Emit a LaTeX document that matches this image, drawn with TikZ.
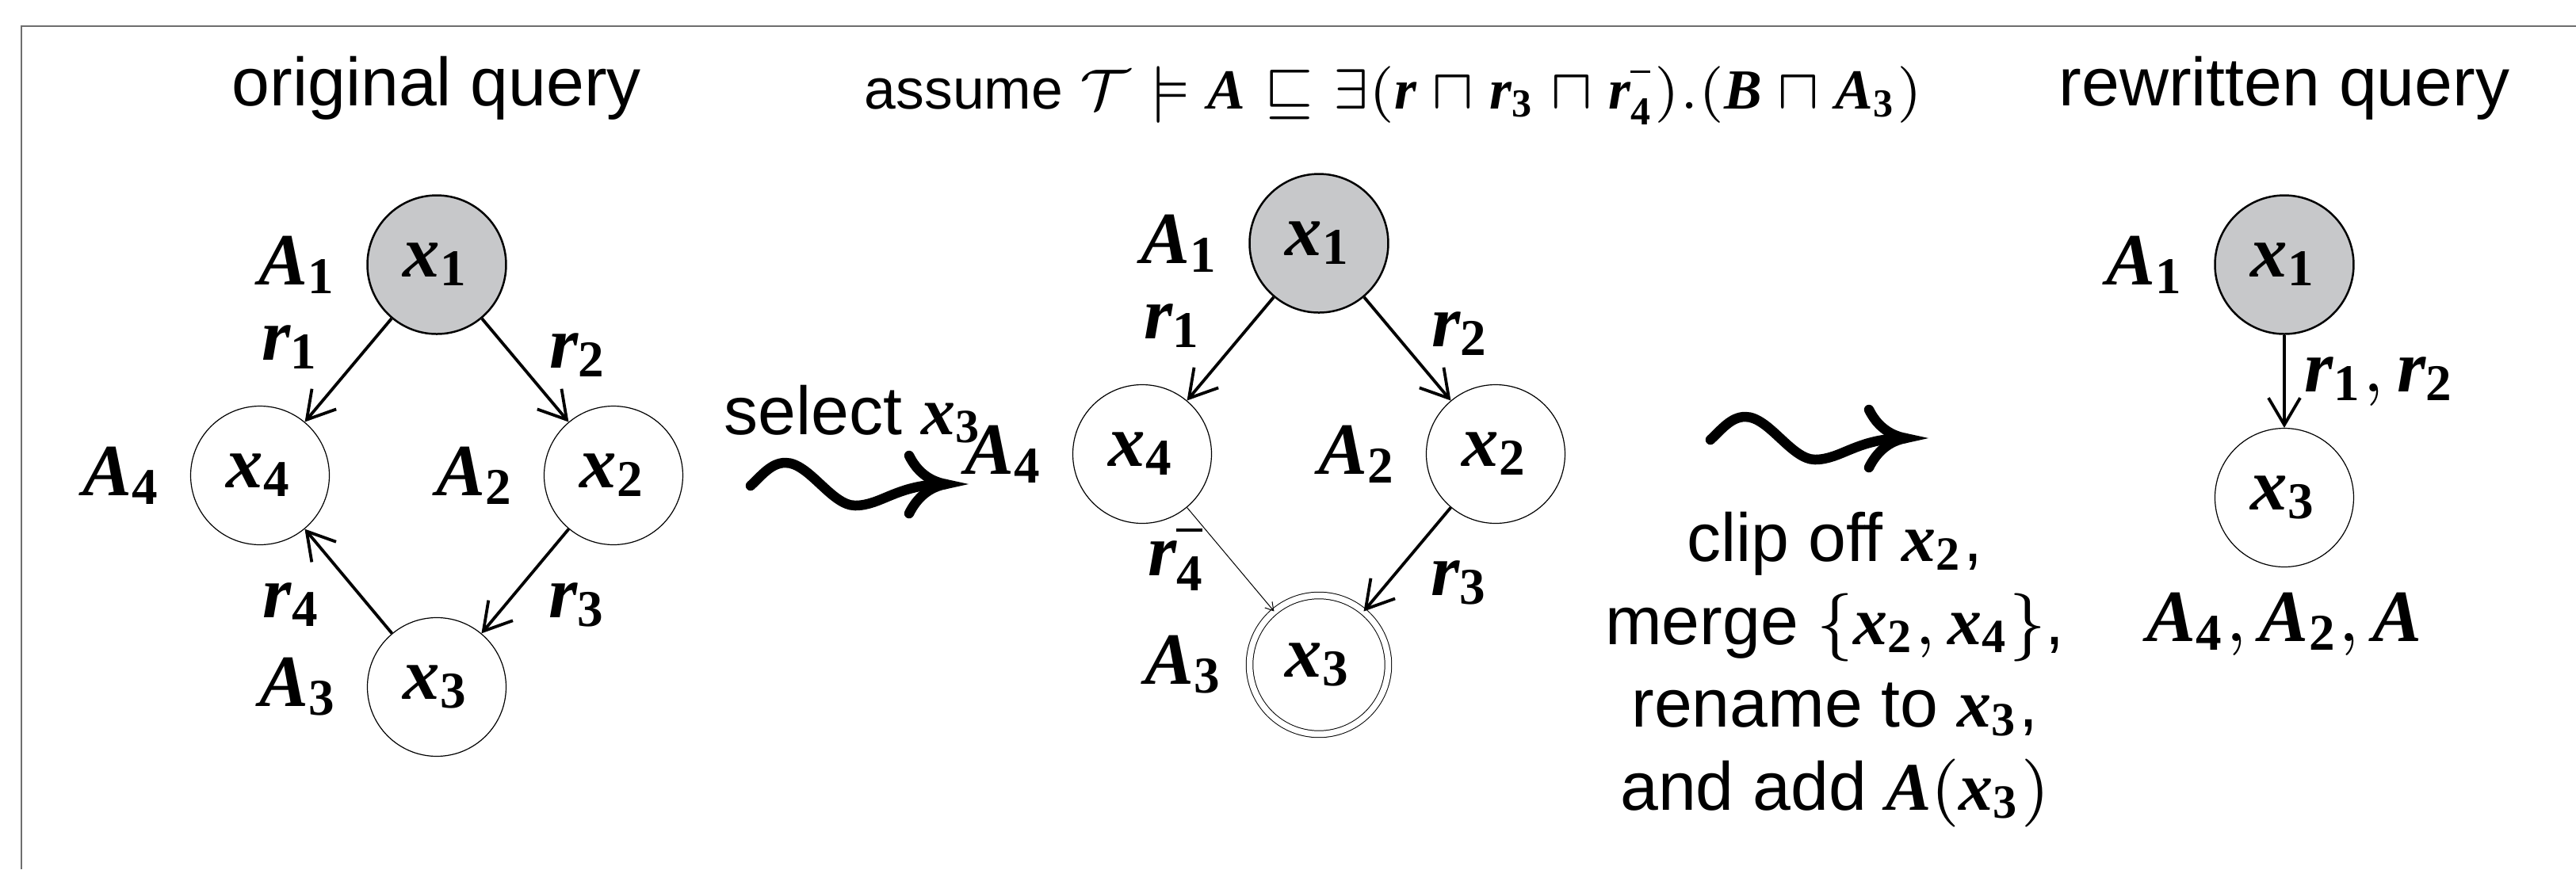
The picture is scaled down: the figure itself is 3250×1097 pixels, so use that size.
\RequirePackage{fix-cm}
\documentclass[tikz,border=0pt]{standalone}
\usepackage{amsmath}
\usepackage{fontspec}
\setmainfont{Liberation Serif}
\setsansfont{Liberation Sans}
\usepackage{tikz}
\usetikzlibrary{arrows.meta,positioning}

\definecolor{rootgray}{RGB}{199,200,202}
\definecolor{framegray}{RGB}{110,110,110}

\newcommand{\bi}[1]{\text{\rmfamily\bfseries\itshape #1}}
\newcommand{\qv}[2]{$\bi{#1}_{\mathbf{#2}}$}
\newcommand{\inv}{\text{\rule[0.55ex]{0.5em}{0.06em}}}

\begin{document}
\begin{tikzpicture}[
  x=0.1pt, y=-0.1pt,
  words/.style={font=\sffamily\fontsize{8.6}{10.45}\selectfont},
  small words/.style={font=\sffamily\fontsize{7.15}{9}\selectfont},
  lbl/.style={inner sep=0pt,font=\fontsize{9.3}{11}\selectfont},
  var/.style={circle,draw,line width=0.12pt,minimum size=17.5pt,inner sep=0pt,font=\fontsize{9.3}{11}\selectfont},
  root/.style={var,fill=rootgray,line width=0.25pt},
  picked/.style={var,double,double distance=0.75pt,line width=0.1pt},
  rel/.style={line width=0.38pt,-{Straight Barb[length=3.4pt,width=4pt]}},
  thin rel/.style={line width=0.1pt,-{Straight Barb[length=1pt,width=1.2pt]}},
  squiggle/.pic={
    \draw[line width=1.25pt,line cap=round] (0,0) .. controls (14,-13) and (26,-29) .. (44,-29)
      .. controls (74,-29) and (102,25) .. (132,25) .. controls (165,25) and (185,-2) .. (246,-2);
    \draw[line width=1.25pt,line cap=round,line join=miter] (200,-38) .. controls (210,-18) and (225,-6) .. (246,-2)
      .. controls (225,2) and (210,15) .. (200,35);
  }
]
\useasboundingbox (0,0) rectangle (3250,1097);
\draw[framegray,line width=0.2pt] (27,1097) -- (27,33) -- (3250,33);

% original query
\node[words,anchor=base] (orig) at (551,133) {original query};
\node[root] (q1) at (551,334) {\qv{x}{1}};
\node[var,on grid,below left=26.6pt and 22.3pt of q1] (q4) {\qv{x}{4}};
\node[var,on grid,below right=26.6pt and 22.3pt of q1] (q2) {\qv{x}{2}};
\node[var,on grid,below=53.3pt of q1] (q3) {\qv{x}{3}};
\node[lbl,left=3.4pt of q1] (qA1) {\qv{A}{1}};
\node[lbl,left=3.4pt of q4] (qA4) {\qv{A}{4}};
\node[lbl,left=3.4pt of q2] (qA2) {\qv{A}{2}};
\node[lbl,left=3.4pt of q3] (qA3) {\qv{A}{3}};
\draw[rel] (q1) -- node[lbl,above left=0pt and 3.3pt] (qr1) {\qv{r}{1}} (q4);
\draw[rel] (q1) -- node[lbl,above right=-1pt and 2.9pt] (qr2) {\qv{r}{2}} (q2);
\draw[rel] (q2) -- node[lbl,below right=0pt and 2.8pt] (qr3) {\qv{r}{3}} (q3);
\draw[rel] (q3) -- node[lbl,below left=0pt and 3.2pt] (qr4) {\qv{r}{4}} (q4);

% step 1
\node[words,anchor=base] (sel) at (1077,548) {select \qv{x}{3}};
\pic (sq1) at (947,613) {squiggle};

% after selecting x3
\node[small words,anchor=base] (assume) at (1758,137) {assume $\mathcal{T}\models\bi{A}\sqsubseteq\exists(\bi{r}\sqcap\bi{r}_{\mathbf{3}}\sqcap\bi{r}^{\inv}_{\mathbf{4}}).(\bi{B}\sqcap\bi{A}_{\mathbf{3}})$};
\node[root] (m1) at (1664,307) {\qv{x}{1}};
\node[var,on grid,below left=26.6pt and 22.3pt of m1] (m4) {\qv{x}{4}};
\node[var,on grid,below right=26.6pt and 22.3pt of m1] (m2) {\qv{x}{2}};
\node[picked,on grid,below=53.2pt of m1] (m3) {\qv{x}{3}};
\node[lbl,left=3.4pt of m1] (mA1) {\qv{A}{1}};
\node[lbl,left=3.4pt of m4] (mA4) {\qv{A}{4}};
\node[lbl,left=3.4pt of m2] (mA2) {\qv{A}{2}};
\node[lbl,left=3pt of m3] (mA3) {\qv{A}{3}};
\draw[rel] (m1) -- node[lbl,above left=0pt and 3.3pt] (mr1) {\qv{r}{1}} (m4);
\draw[rel] (m1) -- node[lbl,above right=-1pt and 2.9pt] (mr2) {\qv{r}{2}} (m2);
\draw[rel] (m2) -- node[lbl,below right=0pt and 2.8pt] (mr3) {\qv{r}{3}} (m3);
\draw[thin rel] (m4) -- node[lbl,left=3pt] (mr4) {$\bi{r}^{\inv}_{\mathbf{4}}$} (m3);

% step 2
\pic (sq2) at (2158,555) {squiggle};
\node[words,align=center,anchor=base] (steps) at (2315,1022) {clip off \qv{x}{2},\\ merge $\{\bi{x}_{\mathbf{2}},\bi{x}_{\mathbf{4}}\}$,\\ rename to \qv{x}{3},\\ and add $\bi{A}(\bi{x}_{\mathbf{3}})$};

% rewritten query
\node[words,anchor=base] (rewr) at (2882,133) {rewritten query};
\node[root] (w1) at (2882,334) {\qv{x}{1}};
\node[var,on grid,below=29.4pt of w1] (w3) {\qv{x}{3}};
\node[lbl,left=3.4pt of w1] (wA1) {\qv{A}{1}};
\node[lbl,below=3pt of w3] (wA) {$\bi{A}_{\mathbf{4}},\bi{A}_{\mathbf{2}},\bi{A}$};
\draw[rel] (w1) -- node[lbl,right=2.4pt] (wr) {$\bi{r}_{\mathbf{1}},\bi{r}_{\mathbf{2}}$} (w3);
\end{tikzpicture}
\end{document}
